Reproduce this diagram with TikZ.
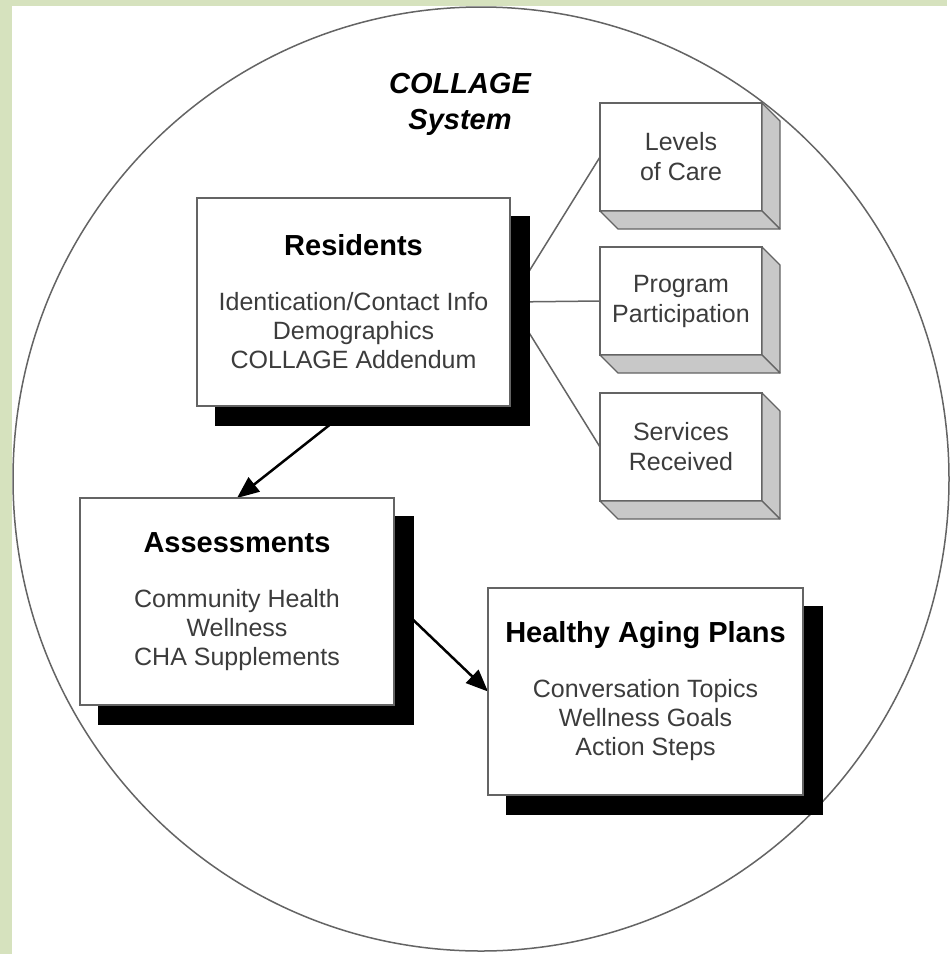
\documentclass[tikz,border=0pt]{standalone}
\usepackage{fontspec}
\setmainfont{Liberation Sans}
\usetikzlibrary{calc,arrows.meta,shadows}
\pgfdeclarelayer{bg}
\pgfsetlayers{bg,main}
\definecolor{sage}{RGB}{214,226,190}
\definecolor{edge}{RGB}{100,100,100}
\definecolor{side}{RGB}{200,200,200}
\definecolor{txt}{RGB}{60,60,60}
\newcommand{\hd}[1]{{\fontsize{29}{34}\selectfont\bfseries\color{black}#1}}

\begin{document}
\begin{tikzpicture}[x=1pt,y=-1pt,
  bigbox/.style={draw=edge,line width=1.5pt,fill=white,outer sep=0pt,inner sep=0pt,
    align=center,text=txt,font=\fontsize{25}{29}\selectfont,
    drop shadow={shadow xshift=19pt,shadow yshift=-19pt,opacity=1,fill=black,draw=black}},
  smallbox/.style={draw=edge,line width=1.2pt,fill=white,outer sep=0pt,inner sep=0pt,
    align=center,text=txt,font=\fontsize{25}{30}\selectfont,
    minimum width=162pt,minimum height=108pt},
  face/.style={draw=edge,line width=1.2pt,fill=side,line join=round},
  link/.style={draw=edge,line width=1.5pt},
  flow/.style={line width=2.5pt,-{Triangle[length=22pt,width=18pt]}}]
  \begin{pgfonlayer}{bg}
    \fill[sage] (0,0) rectangle (947,954);
    \fill[white] (12,6) rectangle (947,954);
    \draw[edge,line width=1.5pt] (481,479) ellipse [x radius=468pt,y radius=472pt];
  \end{pgfonlayer}

  \node[font=\fontsize{29}{36}\selectfont\bfseries\itshape,align=center] (sys) at (460,104) {COLLAGE\\System};

  \node[bigbox,minimum width=313pt,minimum height=208pt] (res) at (353.5,302)
    {\hd{Residents}\\[26pt]Identication/Contact Info\\Demographics\\COLLAGE Addendum};
  \node[bigbox,minimum width=314pt,minimum height=207pt] (ass) at (237,601.5)
    {\hd{Assessments}\\[26pt]Community Health\\Wellness\\CHA Supplements};
  \node[bigbox,minimum width=315pt,minimum height=207pt] (hap) at (645.5,691.5)
    {\hd{Healthy Aging Plans}\\[26pt]Conversation Topics\\Wellness Goals\\Action Steps};

  % side tables
  \foreach \nm/\y/\txt in {lev/157/{Levels\\of Care},prog/301/{Program\\Participation},serv/447/{Services\\Received}}{
    \node[smallbox] (\nm) at (681,\y) {\txt};
    \filldraw[face] (\nm.north east) -- ++(18,18) -- ($(\nm.south east)+(18,18)$) -- (\nm.south east) -- cycle;
    \filldraw[face] (\nm.south west) -- ++(18,18) -- ($(\nm.south east)+(18,18)$) -- (\nm.south east) -- cycle;
  }

  \begin{pgfonlayer}{bg}
    \foreach \nm in {lev,prog,serv} \draw[link] (res.east) -- (\nm.west);
    \draw[flow] (res.south) -- (ass.north);
    \draw[flow] (ass.east) -- (hap.west);
  \end{pgfonlayer}
\end{tikzpicture}
\end{document}
